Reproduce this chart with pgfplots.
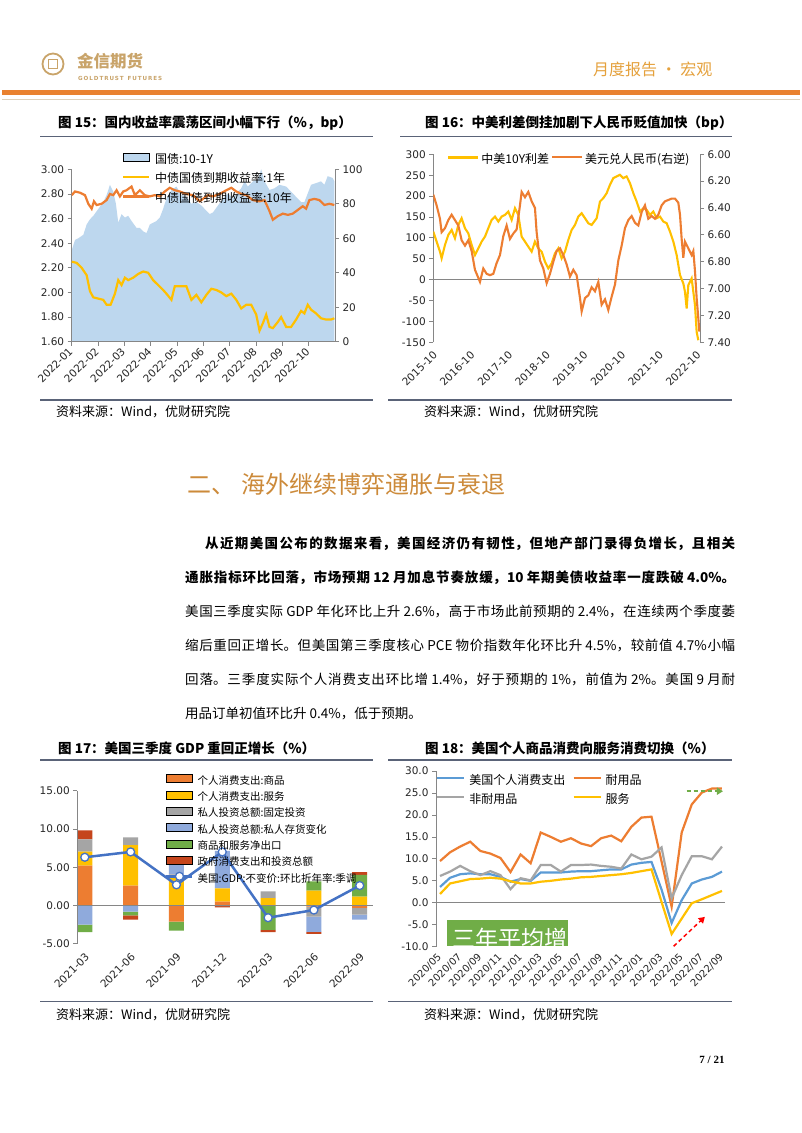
\documentclass[border=0pt]{standalone}
\usepackage{fontspec}
\setmainfont{DejaVu Sans}
\newfontfamily\cjk{Noto Sans CJK SC}
\newfontfamily\serif{Liberation Serif}
\usepackage{pgfplots}
\pgfplotsset{compat=1.18}
\usetikzlibrary{arrows.meta}
\definecolor{careaA}{HTML}{BDD7EE}
\definecolor{cyel}{HTML}{FFC000}
\definecolor{cora}{HTML}{ED7D31}
\definecolor{cgray}{HTML}{A5A5A5}
\definecolor{cblue}{HTML}{5B9BD5}
\definecolor{cinv}{HTML}{8FAADC}
\definecolor{cgreen}{HTML}{70AD47}
\definecolor{cred}{HTML}{C5451C}
\definecolor{cline}{HTML}{4472C4}
\definecolor{axisgray}{HTML}{868686}
\definecolor{hdrorange}{HTML}{E9812F}
\definecolor{gold}{HTML}{C9A46A}
\definecolor{hdrtext}{HTML}{E5A13C}
\definecolor{sectcol}{HTML}{CC8A3A}
\definecolor{rulecol}{HTML}{5A6378}
\pgfplotsset{
  boxlegend/.style={legend image code/.code={\fill[##1] (0pt,-1pt) rectangle (26pt,7pt);}},
  linelegend/.style={legend image code/.code={\draw[##1] (0pt,3pt) -- (#1,3pt);}},
  mlinelegend/.style={legend image code/.code={\draw[mark repeat=2,mark phase=2,##1] plot coordinates {(0pt,3pt) (13pt,3pt) (26pt,3pt)};}},
  base/.style={scale only axis, enlargelimits=false,
    axis line style={axisgray, line width=0.8pt},
    tick style={axisgray, line width=0.8pt},
    major tick length=4pt, tick align=outside,
    ticklabel style={font=\fontsize{10.5}{12}\selectfont, text=black!85},
    /pgf/number format/assume math mode=true,
    legend cell align=left},
}
\begin{document}
\begin{tikzpicture}[x=1pt,y=1pt]
\fill[white] (0,0) rectangle (802,-1133);
\path[use as bounding box] (0,0) rectangle (802,-1133);

% ---------------- header ----------------
\draw[gold, line width=1.8pt] (53,-64) circle (10.5);
\draw[gold, line width=1.2pt] (48.5,-68.5) rectangle (57.5,-59.5);
\node[anchor=west, font=\cjk\bfseries\fontsize{16.5}{18}\selectfont, text=gold, inner sep=0pt] at (77,-61) {金信期货};
\node[anchor=west, font=\bfseries\fontsize{5.6}{6}\selectfont, text=gold, inner sep=0pt] at (78,-78) {G\,O\,L\,D\,T\,R\,U\,S\,T\ \ F\,U\,T\,U\,R\,E\,S};
\node[anchor=west, font=\cjk\fontsize{16}{18}\selectfont, text=hdrtext, inner sep=0pt] at (593,-69) {月度报告 • 宏观};
\fill[hdrorange] (2,-90) rectangle (800,-94.5);
\draw[black!15!gold!40, line width=0.8pt] (2,-99.3) -- (800,-99.3);

% ---------------- titles and rules ----------------
\node[anchor=west, font=\cjk\bfseries\fontsize{13.5}{15}\selectfont, inner sep=0pt] at (58,-123) {图 15：国内收益率震荡区间小幅下行（\%，bp）};
\node[anchor=west, font=\cjk\bfseries\fontsize{13.5}{15}\selectfont, inner sep=0pt] at (425,-123) {图 16：中美利差倒挂加剧下人民币贬值加快（bp）};
\node[anchor=west, font=\cjk\bfseries\fontsize{13.5}{15}\selectfont, inner sep=0pt] at (58,-748) {图 17：美国三季度 GDP 重回正增长（\%）};
\node[anchor=west, font=\cjk\bfseries\fontsize{13.5}{15}\selectfont, inner sep=0pt] at (425,-748) {图 18：美国个人商品消费向服务消费切换（\%）};
\draw[rulecol, line width=1.1pt] (40,-136.7) -- (373,-136.7);
\draw[rulecol, line width=1.1pt] (400,-136.7) -- (732,-136.7);
\draw[rulecol, line width=1.1pt] (40,-400) -- (373,-400);
\draw[rulecol, line width=1.1pt] (388,-400) -- (732,-400);
\draw[rulecol, line width=1.1pt] (40,-760) -- (373,-760);
\draw[rulecol, line width=1.1pt] (388,-760) -- (732,-760);
\draw[rulecol, line width=1.1pt] (40,-1001.7) -- (373,-1001.7);
\draw[rulecol, line width=1.1pt] (388,-1001.7) -- (732,-1001.7);
\node[anchor=west, font=\cjk\fontsize{13}{15}\selectfont, inner sep=0pt] at (56,-412) {资料来源：Wind，优财研究院};
\node[anchor=west, font=\cjk\fontsize{13}{15}\selectfont, inner sep=0pt] at (424,-412) {资料来源：Wind，优财研究院};
\node[anchor=west, font=\cjk\fontsize{13}{15}\selectfont, inner sep=0pt] at (56,-1015) {资料来源：Wind，优财研究院};
\node[anchor=west, font=\cjk\fontsize{13}{15}\selectfont, inner sep=0pt] at (424,-1015) {资料来源：Wind，优财研究院};

% ---------------- section text ----------------
\node[anchor=west, font=\cjk\fontsize{24}{28}\selectfont, text=sectcol, inner sep=0pt] at (187,-484) {二、\hspace{6pt}海外继续博弈通胀与衰退};
\node[anchor=base west, text width=550pt, align=justify, inner sep=0pt, font=\cjk\fontsize{13.5}{34}\selectfont] at (185,-548) {\XeTeXlinebreaklocale "zh"\XeTeXlinebreakskip=0pt plus 6pt\relax
\hspace*{20pt}{\bfseries 从近期美国公布的数据来看，美国经济仍有韧性，但地产部门录得负增长，且相关\linebreak 通胀指标环比回落，市场预期 12 月加息节奏放缓，10 年期美债收益率一度跌破 4.0\%。}\linebreak 美国三季度实际 GDP 年化环比上升 2.6\%，高于市场此前预期的 2.4\%，在连续两个季度萎\linebreak 缩后重回正增长。但美国第三季度核心 PCE 物价指数年化环比升 4.5\%，较前值 4.7\%小幅\linebreak 回落。三季度实际个人消费支出环比增 1.4\%，好于预期的 1\%，前值为 2\%。美国 9 月耐\linebreak 用品订单初值环比升 0.4\%，低于预期。};
\node[font=\serif\bfseries\fontsize{11}{13}\selectfont, inner sep=0pt] at (712,-1060) {7 / 21};

% ================= Chart 15 =================
\begin{axis}[base, width=263.3pt, height=172.4pt, at={(71.7pt,-341.7pt)}, anchor=south west,
  xmin=0, xmax=10, ymin=0, ymax=100, axis y line*=right, hide x axis,
  ytick={0,20,40,60,80,100}]
\addplot[fill=careaA, draw=none] coordinates {(0,53) (0.063,56) (0.126,59) (0.253,60) (0.442,62) (0.568,68) (0.694,71) (0.821,73) (1.010,77) (1.199,81) (1.326,85) (1.452,91) (1.578,87) (1.679,80) (1.768,69) (1.894,74) (2.020,72) (2.146,73) (2.273,70) (2.462,66) (2.588,66) (2.715,64) (2.841,63) (2.967,68) (3.093,69) (3.220,70) (3.346,72) (3.472,77) (3.598,83) (3.788,88) (3.977,90) (4.167,85) (4.356,84) (4.545,80) (4.735,81) (4.924,79) (5.114,76) (5.240,74) (5.366,75) (5.556,79) (5.745,83) (5.934,86) (6.124,83) (6.313,87) (6.439,89) (6.566,93) (6.692,90) (6.881,93) (7.071,94) (7.197,100) (7.323,93) (7.513,88) (7.702,89) (7.891,91) (8.144,90) (8.333,87) (8.523,84) (8.712,81) (8.838,81) (8.965,86) (9.091,91) (9.280,92) (9.470,93) (9.596,91) (9.722,96) (9.912,95) (9.975,93)} \closedcycle;
\end{axis}
\begin{axis}[base, width=263.3pt, height=172.4pt, at={(71.7pt,-341.7pt)}, anchor=south west,
  xmin=0, xmax=10, ymin=1.6, ymax=3.0, axis y line*=left, axis x line*=bottom,
  xtick={0,1,2,3,4,5,6,7,8,9},
  xticklabels={2022-01,2022-02,2022-03,2022-04,2022-05,2022-06,2022-07,2022-08,2022-09,2022-10},
  xticklabel style={rotate=45, anchor=east, yshift=-2pt},
  ytick={1.6,1.8,2.0,2.2,2.4,2.6,2.8,3.0},
  yticklabels={1.60,1.80,2.00,2.20,2.40,2.60,2.80,3.00},
  linelegend=26pt,
  legend style={draw=none, fill=none, at={(0.19,1.0945)}, anchor=north west, inner sep=0pt, row sep=7.5pt,
    font=\cjk\fontsize{12}{14}\selectfont, nodes={inner sep=0pt, text height=9pt, text depth=3pt},
    /tikz/every odd column/.append style={column sep=5pt}}]
\addlegendimage{boxlegend, fill=careaA}
\addlegendentry{国债:10-1Y}
\addplot[color=cyel, line width=2.2pt] coordinates {(0,2.25) (0.189,2.24) (0.379,2.20) (0.568,2.14) (0.694,2.01) (0.821,1.96) (1.010,1.95) (1.199,1.94) (1.326,1.90) (1.477,1.90) (1.641,1.99) (1.768,2.10) (1.894,2.06) (2.020,2.12) (2.146,2.10) (2.336,2.12) (2.525,2.15) (2.715,2.17) (2.904,2.16) (3.093,2.10) (3.283,2.06) (3.472,2.02) (3.598,1.99) (3.788,1.94) (3.914,2.05) (4.104,2.05) (4.356,2.05) (4.545,1.94) (4.735,1.98) (4.924,1.92) (5.114,1.98) (5.303,2.03) (5.492,2.02) (5.682,2.00) (5.871,1.97) (6.061,1.99) (6.250,1.94) (6.439,1.87) (6.629,1.90) (6.818,1.90) (7.008,1.82) (7.134,1.69) (7.260,1.75) (7.386,1.82) (7.513,1.72) (7.639,1.71) (7.828,1.76) (7.955,1.80) (8.144,1.72) (8.333,1.72) (8.523,1.78) (8.712,1.85) (8.838,1.83) (8.965,1.90) (9.091,1.86) (9.280,1.83) (9.470,1.79) (9.659,1.78) (9.848,1.78) (9.975,1.79)};
\addlegendentry{中债国债到期收益率:1年}
\addplot[color=cora, line width=2.2pt] coordinates {(0,2.79) (0.126,2.82) (0.316,2.81) (0.505,2.79) (0.631,2.72) (0.758,2.68) (0.846,2.74) (0.947,2.71) (1.136,2.72) (1.326,2.75) (1.452,2.80) (1.578,2.79) (1.705,2.83) (1.831,2.78) (1.957,2.82) (2.083,2.83) (2.273,2.86) (2.399,2.79) (2.588,2.83) (2.778,2.79) (2.967,2.78) (3.157,2.79) (3.346,2.78) (3.535,2.82) (3.725,2.85) (3.914,2.83) (4.104,2.82) (4.356,2.80) (4.609,2.79) (4.861,2.74) (4.987,2.76) (5.177,2.79) (5.366,2.78) (5.619,2.80) (5.871,2.83) (6.061,2.85) (6.250,2.82) (6.439,2.80) (6.629,2.79) (6.881,2.75) (7.134,2.74) (7.323,2.75) (7.513,2.66) (7.639,2.59) (7.828,2.62) (8.018,2.64) (8.207,2.63) (8.396,2.64) (8.586,2.67) (8.775,2.70) (8.902,2.68) (9.028,2.75) (9.217,2.76) (9.407,2.75) (9.596,2.71) (9.785,2.72) (9.975,2.71)};
\addlegendentry{中债国债到期收益率:10年}
\end{axis}

% ================= Chart 16 =================
\begin{axis}[base, width=266.7pt, height=188pt, at={(433.3pt,-342.3pt)}, anchor=south west,
  xmin=0, xmax=7.08, ymin=-150, ymax=300, axis y line*=left, axis x line*=bottom,
  x axis line style={draw=none}, xtick style={draw=none},
  xtick={0,1,2,3,4,5,6,7},
  xticklabels={2015-10,2016-10,2017-10,2018-10,2019-10,2020-10,2021-10,2022-10},
  xticklabel style={rotate=45, anchor=east, yshift=-6pt},
  ytick={-150,-100,-50,0,50,100,150,200,250,300},
  yticklabels={-150,-100,-50,0,50,100,150,200,250,300},
  extra y ticks={0}, extra y tick labels={},
  extra y tick style={grid=major, major grid style={axisgray, line width=0.8pt}, major tick length=0pt}]
\addplot[color=cyel, line width=2.1pt] coordinates {(0,115) (0.088,91) (0.177,67) (0.221,51) (0.310,83) (0.398,107) (0.487,119) (0.575,99) (0.664,131) (0.752,147) (0.841,123) (0.929,111) (1.018,83) (1.106,59) (1.195,75) (1.283,91) (1.372,103) (1.460,123) (1.549,143) (1.637,151) (1.726,139) (1.814,151) (1.903,155) (1.991,163) (2.080,143) (2.168,171) (2.257,155) (2.345,103) (2.434,91) (2.522,79) (2.611,67) (2.699,91) (2.788,75) (2.876,67) (2.965,43) (3.053,27) (3.142,39) (3.230,63) (3.319,75) (3.407,51) (3.496,67) (3.584,95) (3.673,119) (3.761,131) (3.850,151) (3.938,159) (4.027,147) (4.115,135) (4.204,131) (4.336,147) (4.425,187) (4.513,195) (4.602,207) (4.690,227) (4.779,243) (4.867,247) (4.956,251) (5.044,243) (5.133,247) (5.221,231) (5.310,207) (5.398,187) (5.487,163) (5.575,171) (5.664,167) (5.752,155) (5.841,163) (5.929,147) (6.018,151) (6.106,139) (6.195,135) (6.283,115) (6.372,91) (6.460,59) (6.549,11) (6.637,-9) (6.681,-29) (6.726,-69) (6.770,-13) (6.858,3) (6.903,-29) (6.947,-61) (6.991,-125) (7.035,-145)};
\end{axis}
\begin{axis}[base, width=266.7pt, height=188pt, at={(433.3pt,-342.3pt)}, anchor=south west,
  xmin=0, xmax=7.08, ymin=6.0, ymax=7.4, y dir=reverse, axis y line*=right, hide x axis,
  ytick={6.0,6.2,6.4,6.6,6.8,7.0,7.2,7.4},
  yticklabels={6.00,6.20,6.40,6.60,6.80,7.00,7.20,7.40},
  linelegend=30pt, legend columns=2,
  legend style={draw=none, fill=none, at={(0.05,1.0016)}, anchor=north west, inner sep=0pt,
    font=\cjk\fontsize{12}{14}\selectfont, nodes={inner sep=0pt, text height=9pt, text depth=3pt},
    /tikz/every odd column/.append style={column sep=2pt},
    /tikz/every even column/.append style={column sep=2pt}}]
\addlegendimage{color=cyel, line width=2.6pt}
\addlegendentry{中美10Y利差}
\addplot[color=cora, line width=2.1pt] coordinates {(0,6.30) (0.088,6.38) (0.177,6.48) (0.221,6.58) (0.310,6.55) (0.398,6.49) (0.487,6.45) (0.575,6.49) (0.664,6.53) (0.752,6.64) (0.841,6.68) (0.929,6.64) (1.018,6.72) (1.106,6.86) (1.195,6.92) (1.239,6.95) (1.327,6.85) (1.416,6.89) (1.504,6.90) (1.593,6.89) (1.681,6.81) (1.770,6.75) (1.858,6.61) (1.947,6.53) (2.035,6.63) (2.124,6.59) (2.212,6.56) (2.301,6.38) (2.345,6.28) (2.434,6.32) (2.522,6.28) (2.611,6.35) (2.699,6.40) (2.743,6.58) (2.832,6.79) (2.920,6.85) (3.009,6.96) (3.097,6.89) (3.186,6.80) (3.274,6.72) (3.363,6.70) (3.451,6.75) (3.540,6.82) (3.628,6.91) (3.717,6.86) (3.805,6.90) (3.894,7.07) (3.938,7.17) (4.027,7.07) (4.115,7.05) (4.204,6.99) (4.292,7.02) (4.381,6.95) (4.469,7.12) (4.558,7.08) (4.646,7.16) (4.735,7.06) (4.823,6.97) (4.912,6.79) (5.000,6.68) (5.088,6.55) (5.177,6.49) (5.265,6.46) (5.354,6.51) (5.442,6.53) (5.531,6.43) (5.619,6.38) (5.708,6.48) (5.796,6.46) (5.885,6.48) (5.973,6.45) (6.062,6.38) (6.150,6.35) (6.239,6.34) (6.327,6.33) (6.416,6.33) (6.504,6.36) (6.549,6.45) (6.593,6.63) (6.637,6.77) (6.681,6.65) (6.770,6.70) (6.858,6.75) (6.903,6.72) (6.947,6.87) (6.991,7.07) (7.035,7.22) (7.062,7.32)};
\addlegendentry{美元兑人民币(右逆)}
\end{axis}

% ================= Chart 17 =================
\begin{axis}[base, hide axis, width=295.7pt, height=153pt, at={(77.3pt,-943.7pt)}, anchor=south west,
  xmin=-0.164, xmax=6.29, ymin=-5, ymax=15, ybar stacked, bar width=15pt]
\addplot[fill=cora, draw=none] coordinates {(0,0) (1,0) (2,-2.1) (3,-0.05) (4,0) (5,-0.15) (6,-0.3)};
\addplot[fill=cgray, draw=none] coordinates {(0,0) (1,0) (2,0) (3,-0.05) (4,0) (5,-1.3) (6,-0.9)};
\addplot[fill=cinv, draw=none] coordinates {(0,-2.5) (1,-0.8) (2,0) (3,0) (4,0) (5,-2.0) (6,-0.65)};
\addplot[fill=cgreen, draw=none] coordinates {(0,-1.0) (1,-0.5) (2,-1.2) (3,0) (4,-3.2) (5,0) (6,0)};
\addplot[fill=cred, draw=none] coordinates {(0,0) (1,-0.55) (2,0) (3,-0.15) (4,-0.3) (5,-0.25) (6,0)};
\end{axis}
\begin{axis}[base, width=295.7pt, height=153pt, at={(77.3pt,-943.7pt)}, anchor=south west,
  xmin=-0.164, xmax=6.29, ymin=-5, ymax=15, ybar stacked, bar width=15pt,
  axis y line*=left, axis x line*=bottom, x axis line style={draw=none}, xtick style={draw=none},
  xtick={0,1,2,3,4,5,6},
  xticklabels={2021-03,2021-06,2021-09,2021-12,2022-03,2022-06,2022-09},
  xticklabel style={rotate=45, anchor=east, yshift=-7pt},
  ytick={-5,0,5,10,15}, yticklabels={-5.00,0.00,5.00,10.00,15.00},
  extra y ticks={0}, extra y tick labels={},
  extra y tick style={grid=major, major grid style={axisgray, line width=0.8pt}, major tick length=0pt},
  axis on top]
\addplot[fill=cora, draw=none] coordinates {(0,5.2) (1,2.6) (2,0) (3,0.5) (4,0) (5,0) (6,0)};
\addplot[fill=cyel, draw=none] coordinates {(0,1.85) (1,5.3) (2,3.9) (3,1.75) (4,0.95) (5,1.95) (6,1.15)};
\addplot[fill=cgray, draw=none] coordinates {(0,1.6) (1,1.0) (2,0.15) (3,0) (4,0.9) (5,0) (6,0)};
\addplot[fill=cinv, draw=none] coordinates {(0,0) (1,0) (2,1.9) (3,4.9) (4,0) (5,0) (6,0)};
\addplot[fill=cgreen, draw=none] coordinates {(0,0) (1,0) (2,0) (3,0) (4,0) (5,1.2) (6,2.85)};
\addplot[fill=cred, draw=none] coordinates {(0,1.15) (1,0) (2,0) (3,0) (4,0) (5,0) (6,0.35)};
\end{axis}
\begin{axis}[base, hide axis, width=295.7pt, height=153pt, at={(77.3pt,-943.7pt)}, anchor=south west,
  xmin=-0.164, xmax=6.29, ymin=-5, ymax=15,
  legend style={draw=none, fill=none, at={(0.2966,1.109)}, anchor=north west, inner sep=0pt, row sep=3.9pt,
    font=\cjk\fontsize{10.5}{12}\selectfont, nodes={inner sep=0pt, text height=8pt, text depth=2.5pt},
    /tikz/every odd column/.append style={column sep=4pt}}]
\addlegendimage{boxlegend, fill=cora}
\addlegendentry{个人消费支出:商品}
\addlegendimage{boxlegend, fill=cyel}
\addlegendentry{个人消费支出:服务}
\addlegendimage{boxlegend, fill=cgray}
\addlegendentry{私人投资总额:固定投资}
\addlegendimage{boxlegend, fill=cinv}
\addlegendentry{私人投资总额:私人存货变化}
\addlegendimage{boxlegend, fill=cgreen}
\addlegendentry{商品和服务净出口}
\addlegendimage{boxlegend, fill=cred}
\addlegendentry{政府消费支出和投资总额}
\addplot[mlinelegend, color=cline, line width=2.5pt, mark=*, mark size=4pt, mark options={fill=white, draw=cline, line width=1.3pt}] coordinates {(0,6.3) (1,7.0) (2,2.7) (3,7.0) (4,-1.6) (5,-0.6) (6,2.6)};
\addlegendentry{美国:GDP:不变价:环比折年率:季调}
\end{axis}

% ================= Chart 18 =================
\begin{axis}[base, width=289pt, height=175.7pt, at={(436pt,-946.7pt)}, anchor=south west,
  xmin=-0.4, xmax=28.3, ymin=-10, ymax=30, clip=false,
  axis y line*=left, axis x line*=bottom, x axis line style={draw=none}, xtick style={draw=none},
  xtick={0,2,4,6,8,10,12,14,16,18,20,22,24,26,28},
  xticklabels={2020/05,2020/07,2020/09,2020/11,2021/01,2021/03,2021/05,2021/07,2021/09,2021/11,2022/01,2022/03,2022/05,2022/07,2022/09},
  xticklabel style={rotate=45, anchor=east, yshift=-3pt, font=\fontsize{10}{11}\selectfont},
  ytick={-10,-5,0,5,10,15,20,25,30},
  yticklabels={-10.0,-5.0,0.0,5.0,10.0,15.0,20.0,25.0,30.0},
  extra y ticks={0}, extra y tick labels={},
  extra y tick style={grid=major, major grid style={axisgray, line width=0.8pt}, major tick length=0pt},
  linelegend=27pt, legend columns=2,
  legend style={draw=none, fill=none, at={(0,0.977)}, anchor=north west, inner sep=0pt, row sep=7pt,
    font=\cjk\fontsize{12}{14}\selectfont, nodes={inner sep=0pt, text height=9pt, text depth=3pt},
    /tikz/every odd column/.append style={column sep=4pt},
    /tikz/every even column/.append style={column sep=7pt}}]
\addplot[color=cblue, line width=2.2pt] coordinates {(0,3.6) (1,5.7) (2,6.5) (3,6.7) (4,6.5) (5,6.5) (6,5.9) (7,4.8) (8,5.4) (9,5.0) (10,6.9) (11,6.9) (12,6.9) (13,7.1) (14,7.2) (15,7.2) (16,7.4) (17,7.6) (18,7.6) (19,8.7) (20,9.1) (21,9.3) (22,3.0) (23,-4.6) (24,0.6) (25,4.4) (26,5.3) (27,5.9) (28,7.1)};
\addlegendentry{美国个人消费支出}
\addplot[color=cora, line width=2.2pt] coordinates {(0,9.5) (1,11.5) (2,12.8) (3,13.9) (4,11.8) (5,11.2) (6,10.2) (7,7.0) (8,11.0) (9,9.0) (10,16.0) (11,15.0) (12,13.9) (13,14.7) (14,13.5) (15,12.9) (16,14.7) (17,15.3) (18,14.0) (19,17.3) (20,19.4) (21,19.6) (22,9.4) (23,-0.9) (24,16.0) (25,22.4) (26,25.1) (27,26.0) (28,26.0)};
\addlegendentry{耐用品}
\addplot[color=cgray, line width=2.2pt] coordinates {(0,6.1) (1,7.1) (2,8.4) (3,7.2) (4,6.3) (5,7.2) (6,6.3) (7,3.1) (8,5.6) (9,5.1) (10,8.6) (11,8.6) (12,7.1) (13,8.6) (14,8.6) (15,8.7) (16,8.4) (17,8.2) (18,7.8) (19,11.0) (20,9.9) (21,10.5) (22,12.6) (23,1.0) (24,6.3) (25,10.6) (26,10.6) (27,9.9) (28,12.8)};
\addlegendentry{非耐用品}
\addplot[color=cyel, line width=2.2pt] coordinates {(0,2.0) (1,4.4) (2,4.9) (3,5.4) (4,5.5) (5,5.7) (6,5.5) (7,4.9) (8,4.4) (9,4.4) (10,4.8) (11,5.0) (12,5.3) (13,5.5) (14,5.8) (15,5.9) (16,6.1) (17,6.3) (18,6.5) (19,6.8) (20,7.2) (21,7.6) (22,0.2) (23,-7.1) (24,-3.6) (25,-0.1) (26,0.8) (27,1.75) (28,2.7)};
\addlegendentry{服务}
\draw[cgreen, line width=1.5pt, dash pattern=on 4pt off 3pt, -{Triangle[length=6pt,width=7pt]}] (axis cs:24.5,25.4) -- (axis cs:28.1,25.4);
\draw[red, line width=1.5pt, dash pattern=on 4pt off 3pt, -{Triangle[length=6pt,width=7pt]}] (axis cs:23.2,-9.9) -- (axis cs:26.3,-3.2);
\end{axis}
\fill[cgreen] (446.7,-920) rectangle (568.3,-945.7);
\begin{scope}
\clip (446.7,-920) rectangle (568.3,-945.7);
\node[anchor=west, text=white, font=\cjk\fontsize{23}{25}\selectfont, inner sep=0pt] at (452,-939) {三年平均增};
\end{scope}
\end{tikzpicture}
\end{document}
